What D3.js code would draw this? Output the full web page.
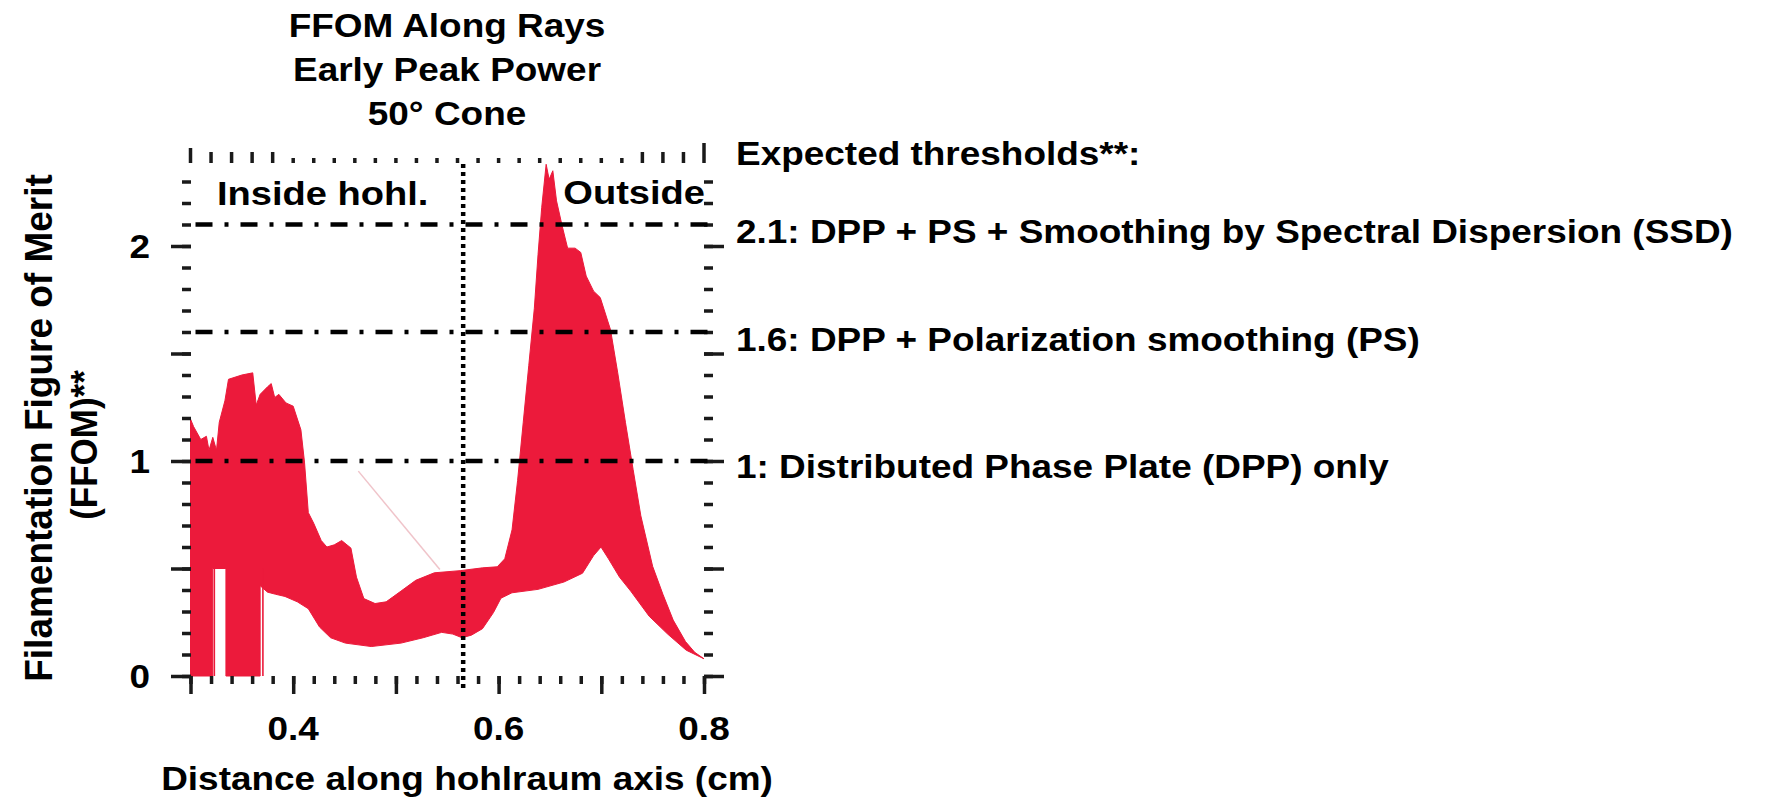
<!DOCTYPE html>
<html lang="en">
<head>
    <meta charset="UTF-8">
    <title>FFOM Along Rays</title>
    <script src="https://d3js.org/d3.v7.min.js"></script>
    <style>
        body { margin: 0; background: #fff; }
        text { font-family: "Liberation Sans", Arial, sans-serif; font-weight: bold; fill: #000; }
        .tick line { stroke: #1a1a1a; stroke-width: 3.5; }
    </style>
</head>
<body>
    <svg id="chart" width="1769" height="804"></svg>
    <script>
        // upper edge of the bundle of ray curves (x in cm, FFOM)
        const upperEnv = [
            [0.300, 1.195], [0.303, 1.16], [0.310, 1.10], [0.3155, 1.115], [0.318, 1.05],
            [0.3217, 1.11], [0.3253, 1.05], [0.328, 1.18], [0.3335, 1.28], [0.337, 1.38],
            [0.350, 1.40], [0.3606, 1.41], [0.364, 1.26], [0.3678, 1.31], [0.375, 1.345],
            [0.3786, 1.36], [0.382, 1.295], [0.386, 1.31], [0.393, 1.27], [0.400, 1.255],
            [0.4075, 1.145], [0.411, 0.995], [0.4147, 0.76], [0.420, 0.71], [0.4273, 0.63],
            [0.4328, 0.60], [0.440, 0.61], [0.4472, 0.63], [0.4562, 0.595], [0.4616, 0.46],
            [0.4688, 0.36], [0.4797, 0.337], [0.4905, 0.345], [0.505, 0.395], [0.5193, 0.445],
            [0.5374, 0.48], [0.5626, 0.49], [0.5843, 0.503], [0.5987, 0.508], [0.606, 0.545],
            [0.6131, 0.68], [0.6185, 0.91], [0.624, 1.18], [0.6294, 1.445], [0.6348, 1.71],
            [0.6384, 1.96], [0.642, 2.18], [0.6463, 2.38], [0.6492, 2.31], [0.6528, 2.35],
            [0.6564, 2.21], [0.6618, 2.095], [0.6672, 1.99], [0.6745, 1.99], [0.680, 1.97],
            [0.6853, 1.86], [0.6925, 1.79], [0.699, 1.76], [0.709, 1.61], [0.716, 1.41],
            [0.7235, 1.18], [0.731, 0.96], [0.7385, 0.745], [0.750, 0.51], [0.760, 0.38],
            [0.770, 0.26], [0.782, 0.16], [0.791, 0.11], [0.800, 0.08]
        ];

        // lower edge of the bundle, left to right
        const lowerEnv = [
            [0.300, 0], [0.3216, 0], [0.3216, 0.50], [0.3345, 0.50], [0.3345, 0],
            [0.3678, 0], [0.3678, 0.42], [0.375, 0.39], [0.383, 0.38], [0.392, 0.37],
            [0.404, 0.345], [0.4147, 0.313], [0.4256, 0.228], [0.4364, 0.178], [0.4508, 0.153],
            [0.476, 0.137], [0.505, 0.153], [0.5266, 0.178], [0.5446, 0.203], [0.5554, 0.195],
            [0.5644, 0.178], [0.5735, 0.19], [0.5843, 0.22], [0.595, 0.295], [0.6023, 0.362],
            [0.613, 0.387], [0.6384, 0.403], [0.6636, 0.437], [0.6817, 0.478], [0.6925, 0.56],
            [0.6997, 0.60], [0.707, 0.545], [0.7177, 0.46], [0.7286, 0.395], [0.7466, 0.278],
            [0.7646, 0.195], [0.7827, 0.12], [0.800, 0.08]
        ];

        // single rays that drop to zero inside the gaps
        const rayDrops = [0.3232, 0.3705];
        const strayRay = [[0.4634, 0.953], [0.5428, 0.495]];

        const thresholds = [2.1, 1.6, 1];
        const thresholdLabels = [
            "2.1: DPP + PS + Smoothing by Spectral Dispersion (SSD)",
            "1.6: DPP + Polarization smoothing (PS)",
            "1: Distributed Phase Plate (DPP) only"
        ];
        const hohlraumEdge = 0.5655;
        const xTickLabels = [0.4, 0.6, 0.8];
        const yTickLabels = [0, 1, 2];
        const titleLines = ["FFOM Along Rays", "Early Peak Power", "50\u00B0 Cone"];

        const svg = d3.select("#chart");
        const x = d3.scaleLinear().domain([0.3, 0.8]).range([190.5, 704]);
        const y = d3.scaleLinear().domain([0, 1]).range([676, 461]);
        const fs = 33;
        const stretch = "scale(1.12,1)";
        const red = "#ec1a3b";

        // ray bundle
        const line = d3.line().x(d => x(d[0])).y(d => y(d[1]));
        svg.append("path")
            .attr("d", line(upperEnv.concat(lowerEnv.slice().reverse())) + "Z")
            .attr("fill", red)
            .attr("stroke", red)
            .attr("stroke-width", 1);

        svg.selectAll(".drop").data(rayDrops).enter().append("line")
            .attr("x1", d => x(d)).attr("x2", d => x(d))
            .attr("y1", y(0)).attr("y2", y(0.5))
            .attr("stroke", red).attr("stroke-width", 1.6);

        svg.append("path")
            .attr("d", line(strayRay))
            .attr("stroke", "#f0c4ca").attr("stroke-width", 1.5).attr("fill", "none");

        // axes: ticks only, no frame
        function ticks(axis, tx, ty) {
            svg.append("g").attr("transform", `translate(${tx},${ty})`)
                .call(axis)
                .call(g => g.select(".domain").remove());
        }
        const xMinor = x.ticks(25);
        const xMajor = x.ticks(5);
        const yMinor = d3.scaleLinear().domain([0, 2.3]).ticks(23);
        const yMajor = [0, 0.5, 1, 1.5, 2];

        ticks(d3.axisBottom(x).tickValues(xMinor).tickSize(8).tickFormat(""), 0, 676);
        ticks(d3.axisBottom(x).tickValues(xMajor).tickSize(18).tickFormat(""), 0, 676);
        ticks(d3.axisLeft(y).tickValues(yMinor).tickSize(9).tickFormat(""), 191, 0);
        ticks(d3.axisLeft(y).tickValues(yMajor).tickSize(20).tickFormat(""), 191, 0);
        ticks(d3.axisRight(y).tickValues(yMinor).tickSize(9).tickFormat(""), 704, 0);
        ticks(d3.axisRight(y).tickValues(yMajor).tickSize(20).tickFormat(""), 704, 0);

        // top row: short ticks at the ends, dots in the middle
        svg.selectAll(".top").data(xMinor).enter().append("line")
            .attr("x1", d => x(d)).attr("x2", d => x(d))
            .attr("y1", 163)
            .attr("y2", d => d > 0.795 ? 143 : (d < 0.305 ? 148 : (d < 0.39 || d > 0.73 ? 152 : 158)))
            .attr("stroke", "#1a1a1a").attr("stroke-width", 3.5);

        // thresholds
        svg.selectAll(".thr").data(thresholds).enter().append("line")
            .attr("x1", x(0.3) + 5).attr("x2", x(0.8) + 6)
            .attr("y1", d => y(d)).attr("y2", d => y(d))
            .attr("stroke", "#000").attr("stroke-width", 4.5)
            .attr("stroke-dasharray", "17,12,4,12");

        svg.append("line")
            .attr("x1", x(hohlraumEdge)).attr("x2", x(hohlraumEdge))
            .attr("y1", 164).attr("y2", 690)
            .attr("stroke", "#000").attr("stroke-width", 4.5)
            .attr("stroke-dasharray", "4,4");

        // tick labels
        svg.selectAll(".xl").data(xTickLabels).enter().append("text")
            .attr("transform", d => `translate(${x(d)},740) ${stretch}`)
            .attr("text-anchor", "middle").attr("font-size", fs)
            .text(d => d3.format(".1f")(d));
        svg.selectAll(".yl").data(yTickLabels).enter().append("text")
            .attr("transform", d => `translate(150,${y(d) + 12}) ${stretch}`)
            .attr("text-anchor", "end").attr("font-size", fs)
            .text(d => d);

        // titles and labels
        svg.selectAll(".title").data(titleLines).enter().append("text")
            .attr("transform", (d, i) => `translate(447,${37 + i * 44}) ${stretch}`)
            .attr("text-anchor", "middle").attr("font-size", fs)
            .text(d => d);

        svg.append("text")
            .attr("transform", `translate(467,790) ${stretch}`)
            .attr("text-anchor", "middle").attr("font-size", fs)
            .text("Distance along hohlraum axis (cm)");

        svg.append("text")
            .attr("transform", "translate(52,428) scale(1.05,1) rotate(-90)")
            .attr("text-anchor", "middle").attr("font-size", 37)
            .text("Filamentation Figure of Merit");
        svg.append("text")
            .attr("transform", "translate(97,445) scale(1.05,1) rotate(-90)")
            .attr("text-anchor", "middle").attr("font-size", 35)
            .text("(FFOM)**");

        svg.append("text")
            .attr("transform", `translate(217,205) ${stretch}`)
            .attr("font-size", fs + 1).text("Inside hohl.");
        svg.append("text")
            .attr("transform", `translate(705,204) ${stretch}`)
            .attr("text-anchor", "end").attr("font-size", fs + 1).text("Outside");

        svg.append("text")
            .attr("transform", `translate(736,165) ${stretch}`)
            .attr("font-size", fs).text("Expected thresholds**:");
        const labelBase = [243, 351, 478];
        svg.selectAll(".tl").data(thresholdLabels).enter().append("text")
            .attr("transform", (d, i) => `translate(736,${labelBase[i]}) ${stretch}`)
            .attr("font-size", fs)
            .text(d => d);
    </script>
</body>
</html>
